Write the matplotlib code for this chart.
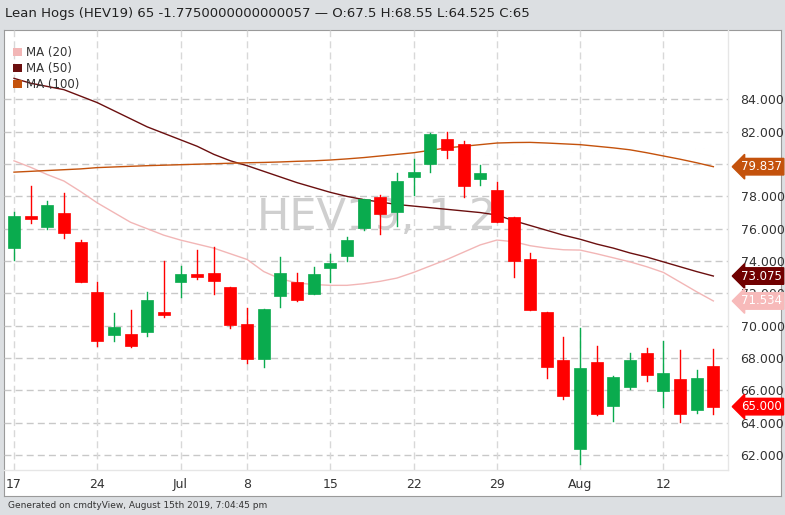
import matplotlib
matplotlib.use("Agg")
import matplotlib.pyplot as plt
from matplotlib.patches import Patch, Rectangle

dates = ["Jun17","Jun18","Jun19","Jun20","Jun21","Jun24","Jun25","Jun26","Jun27","Jun28",
         "Jul1","Jul2","Jul3","Jul5","Jul8","Jul9","Jul10","Jul11","Jul12",
         "Jul15","Jul16","Jul17","Jul18","Jul19","Jul22","Jul23","Jul24","Jul25","Jul26",
         "Jul29","Jul30","Jul31","Aug1","Aug2","Aug5","Aug6","Aug7","Aug8","Aug9",
         "Aug12","Aug13","Aug14","Aug15"]
opens  = [74.78,76.78,76.08,76.95,75.20,72.06,69.42,69.48,69.63,70.85,72.72,73.22,73.24,72.41,70.08,67.94,71.86,72.70,71.98,73.59,74.33,76.02,
          77.98,77.05,79.20,80.02,81.53,81.24,79.07,78.37,76.74,74.10,70.82,67.88,62.37,67.75,65.05,66.19,68.29,65.98,66.68,64.82,67.50]
highs  = [77.05,78.66,77.73,78.19,75.30,72.68,70.76,70.97,72.06,74.00,73.69,74.68,74.89,72.41,71.11,71.01,74.27,73.28,73.65,74.43,75.46,77.86,
          78.08,79.46,80.29,81.90,82.00,81.44,79.92,78.89,76.74,74.52,70.82,69.28,69.88,68.74,66.89,68.29,68.60,69.07,68.49,67.26,68.55]
lows   = [74.06,76.37,76.00,75.40,72.68,68.76,69.05,68.66,69.38,70.52,71.75,72.91,71.94,69.84,67.67,67.42,71.18,71.51,71.98,72.70,74.00,75.90,
          75.65,76.16,78.06,79.53,80.39,77.98,78.68,76.43,73.03,70.97,66.74,65.44,61.48,64.47,64.12,66.10,66.58,64.99,64.06,64.58,64.525]
closes = [76.78,76.58,77.46,75.71,72.68,69.03,69.90,68.74,71.59,70.66,73.20,73.03,72.78,70.04,67.94,71.01,73.24,71.57,73.22,73.90,75.30,77.86,
          76.89,78.95,79.48,81.84,80.87,78.64,79.44,76.43,73.98,70.97,67.42,65.67,67.40,64.54,66.85,67.88,66.93,67.05,64.54,66.74,65.00]
ma20  = [80.2,79.8,79.35,78.95,78.3,77.6,77.0,76.4,76.0,75.6,75.3,75.05,74.8,74.45,74.1,73.35,72.9,72.65,72.55,72.5,72.5,72.6,
         72.75,72.95,73.3,73.7,74.1,74.55,75.0,75.3,75.2,74.95,74.8,74.7,74.68,74.45,74.2,73.95,73.65,73.3,72.7,72.1,71.534]
ma50  = [85.3,85.0,84.8,84.6,84.2,83.8,83.3,82.8,82.3,81.9,81.5,81.1,80.6,80.2,79.9,79.55,79.2,78.85,78.55,78.25,78.0,77.8,
         77.65,77.5,77.4,77.3,77.2,77.1,77.0,76.85,76.5,76.2,75.9,75.6,75.35,75.05,74.8,74.5,74.25,73.95,73.65,73.35,73.075]
ma100 = [79.5,79.55,79.6,79.65,79.7,79.78,79.82,79.86,79.9,79.93,79.96,79.99,80.02,80.05,80.08,80.1,80.13,80.17,80.2,80.25,80.32,80.4,
         80.5,80.6,80.7,80.85,81.0,81.1,81.2,81.3,81.33,81.34,81.3,81.25,81.2,81.1,81.0,80.88,80.7,80.5,80.3,80.08,79.837]
xtick_idx = [0, 5, 10, 14, 19, 24, 29, 34, 39]
xtick_labels = ["17", "24", "Jul", "8", "15", "22", "29", "Aug", "12"]
yticks = [62, 64, 66, 68, 70, 72, 74, 76, 78, 80, 82, 84]
last_labels = [(79.837, "79.837", "#c4520c", "white"), (73.075, "73.075", "#700000", "white"),
               (71.534, "71.534", "#f7baba", "white"), (65.0, "65.000", "#ff0000", "white")]

W, H = 785, 515
fig = plt.figure(figsize=(W/100, H/100), dpi=100, facecolor="#dcdfe2")
panel = fig.add_axes([4/W, 1-496/H, (781-4)/W, (496-30)/H])
panel.set_facecolor("white"); panel.set_xticks([]); panel.set_yticks([])
for s in panel.spines.values():
    s.set_color("#9a9a9a"); s.set_linewidth(0.8)

ax = fig.add_axes([4/W, 1-470/H, (728-4)/W, (470-30)/H])
ax.set_facecolor("none")
for s in ax.spines.values():
    s.set_visible(False)
ax.plot([0, 1], [0, 0], transform=ax.transAxes, color="#e6e6e6", lw=1, clip_on=False)
ax.plot([1, 1], [0, 1], transform=ax.transAxes, color="#e6e6e6", lw=1, clip_on=False)

n = len(opens)
ax.set_xlim(-0.6, 42.88)
ax.set_ylim(61.08, 88.29)

for y in yticks:
    ax.axhline(y, color="#c8c8c8", lw=1, ls=(0, (5, 3)), zorder=0)
for i in xtick_idx:
    ax.axvline(i, color="#d8d8d8", lw=1, ls=(0, (5, 3)), zorder=0)

ax.text(21.8, 76.7, "HEV19, 1 2", fontsize=31, color="#cfcfcf", ha="center", va="center", zorder=1)

green, red = "#0aab4e", "#ff0000"
for i in range(n):
    o, h, l, c = opens[i], highs[i], lows[i], closes[i]
    col = green if c >= o else red
    ax.plot([i, i], [l, h], color=col, lw=1, zorder=3)
    lo, hi = min(o, c), max(o, c)
    ax.add_patch(Rectangle((i-0.36, lo), 0.72, max(hi-lo, 0.12), facecolor=col, edgecolor=col, lw=0.5, zorder=4))

xs = list(range(n))
ax.plot(xs, ma20, color="#f2b6b6", lw=1, zorder=2)
ax.plot(xs, ma50, color="#6b0f0f", lw=1, zorder=2)
ax.plot(xs, ma100, color="#c4520c", lw=1, zorder=2)

ax.set_xticks(xtick_idx)
ax.set_xticklabels(xtick_labels, fontsize=9, color="#333333")
ax.tick_params(axis="x", length=0, pad=6)
ax.yaxis.tick_right()
ax.set_yticks(yticks)
ax.set_yticklabels([f"{v:.3f}" for v in yticks], fontsize=9, color="#333333")
ax.tick_params(axis="y", length=0, pad=9)

for v, txt, bg, fg in last_labels:
    ax.text(1.018, v, txt, transform=ax.get_yaxis_transform(), fontsize=8.5, color=fg,
            ha="left", va="center", zorder=10, clip_on=False,
            bbox=dict(boxstyle="larrow,pad=0.15", facecolor=bg, edgecolor=bg))

handles = [Patch(facecolor="#f2b6b6"), Patch(facecolor="#6b0f0f"), Patch(facecolor="#c4520c")]
leg = ax.legend(handles, ["MA (20)", "MA (50)", "MA (100)"], loc="upper left", bbox_to_anchor=(0.0, 0.985),
                frameon=False, fontsize=8.5, handlelength=0.7, handleheight=0.7, handletextpad=0.4,
                labelspacing=0.25, borderaxespad=0.4)
for t in leg.get_texts():
    t.set_color("#333333")

fig.text(5/W, 1-13/H, "Lean Hogs (HEV19) 65 -1.7750000000000057 \u2014 O:67.5 H:68.55 L:64.525 C:65",
         fontsize=9.5, color="#222222", va="center", ha="left")
fig.text(8/W, 1-505/H, "Generated on cmdtyView, August 15th 2019, 7:04:45 pm",
         fontsize=6.5, color="#333333", va="center", ha="left")

fig.savefig("out.png", dpi=100, facecolor=fig.get_facecolor())
